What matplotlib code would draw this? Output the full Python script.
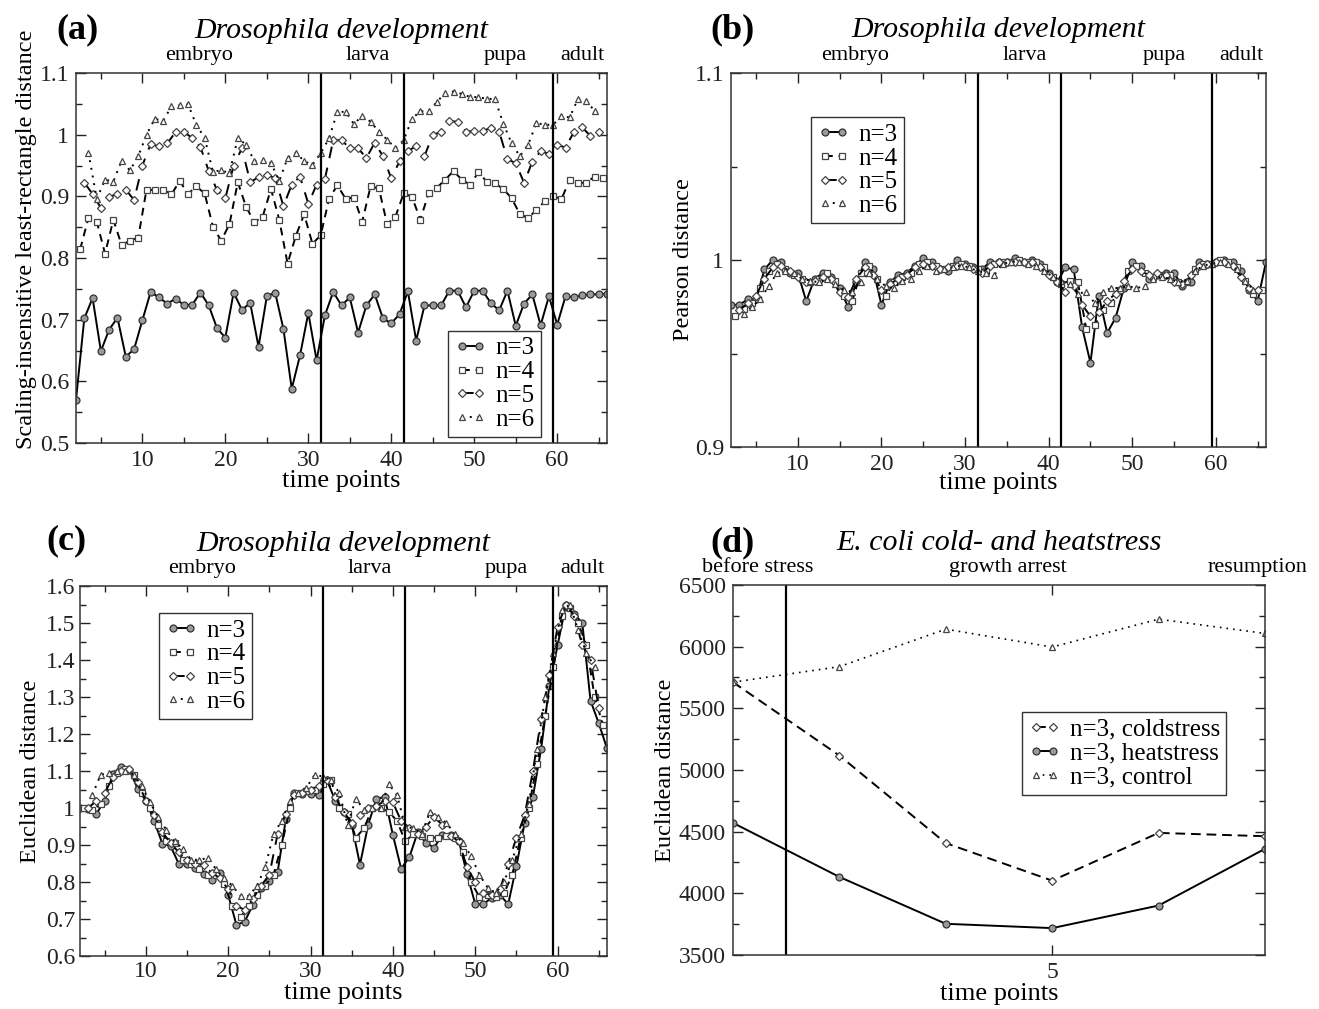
import numpy as np
import matplotlib
matplotlib.use("Agg")
import matplotlib.pyplot as plt
from matplotlib.ticker import MultipleLocator, FuncFormatter, FixedLocator
import matplotlib.transforms as mtransforms

plt.rcParams['font.family'] = ['Liberation Serif', 'DejaVu Serif']

# ---------------- data ----------------
# Panel (a): scaling-insensitive least-rectangle distance
a_n3 = [0.570, 0.702, 0.735, 0.649, 0.684, 0.703, 0.640, 0.652, 0.699, 0.745,
        0.736, 0.726, 0.734, 0.724, 0.724, 0.744, 0.723, 0.686, 0.671, 0.744,
        0.716, 0.727, 0.656, 0.738, 0.744, 0.685, 0.588, 0.642, 0.711, 0.634,
        0.707, 0.745, 0.723, 0.736, 0.679, 0.723, 0.741, 0.702, 0.694, 0.709,
        0.746, 0.666, 0.723, 0.723, 0.723, 0.747, 0.747, 0.720, 0.747, 0.747,
        0.727, 0.715, 0.747, 0.690, 0.726, 0.741, 0.691, 0.738, 0.692, 0.738,
        0.736, 0.740, 0.741, 0.741, 0.742]
a_n4 = [0.814, 0.865, 0.859, 0.807, 0.862, 0.821, 0.828, 0.833, 0.911, 0.910,
        0.911, 0.903, 0.925, 0.904, 0.916, 0.905, 0.851, 0.828, 0.855, 0.923,
        0.883, 0.858, 0.867, 0.912, 0.862, 0.791, 0.836, 0.871, 0.823, 0.837,
        0.896, 0.918, 0.896, 0.898, 0.859, 0.916, 0.913, 0.855, 0.867, 0.905,
        0.899, 0.862, 0.905, 0.914, 0.927, 0.941, 0.927, 0.919, 0.939, 0.924,
        0.921, 0.912, 0.897, 0.871, 0.865, 0.878, 0.892, 0.901, 0.895, 0.927,
        0.922, 0.922, 0.932, 0.930]
a_n5 = [0.922, 0.904, 0.881, 0.899, 0.904, 0.911, 0.894, 0.950, 0.985, 0.982,
        0.986, 1.004, 1.004, 0.995, 0.980, 0.941, 0.910, 0.897, 0.950, 0.978,
        0.923, 0.931, 0.934, 0.930, 0.884, 0.919, 0.932, 0.888, 0.919, 0.928,
        0.991, 0.991, 0.978, 0.978, 0.962, 0.987, 0.965, 0.929, 0.957, 0.974,
        0.981, 0.965, 1.000, 1.004, 1.022, 1.021, 1.005, 1.006, 1.006, 1.011,
        1.005, 0.960, 0.954, 0.922, 0.956, 0.973, 0.969, 0.984, 0.979, 1.004,
        1.012, 0.998, 1.005]
a_n6 = [0.971, 0.896, 0.927, 0.924, 0.958, 0.942, 0.965, 1.000, 1.026, 1.022,
        1.046, 1.048, 1.049, 1.016, 0.995, 0.940, 0.942, 0.938, 0.994, 0.984,
        0.957, 0.959, 0.954, 0.925, 0.962, 0.971, 0.957, 0.951, 0.970, 0.994,
        1.037, 1.037, 1.017, 1.031, 1.021, 1.005, 0.992, 0.978, 0.991, 1.026,
        1.038, 1.038, 1.053, 1.068, 1.070, 1.066, 1.061, 1.061, 1.058, 1.058,
        1.018, 0.986, 0.965, 0.984, 1.019, 1.016, 1.016, 1.030, 1.028, 1.058,
        1.054, 1.039]

# Panel (b): Pearson distance
b_n3 = [0.976, 0.976, 0.979, 0.979, 0.995, 1.000, 0.999, 0.993, 0.993, 0.978,
        0.990, 0.993, 0.991, 0.985, 0.975, 0.988, 0.999, 0.995, 0.976, 0.988,
        0.992, 0.993, 0.997, 1.001, 0.999, 0.995, 0.994, 1.000, 0.998, 0.996,
        0.995, 0.999, 0.999, 0.999, 1.001, 0.999, 1.000, 0.998, 0.993, 0.988,
        0.996, 0.995, 0.964, 0.945, 0.981, 0.961, 0.969, 0.985, 0.999, 0.997,
        0.990, 0.992, 0.993, 0.993, 0.986, 0.988, 0.999, 0.998, 0.999, 1.000,
        0.999, 0.994, 0.984, 0.978, 0.999]
b_n4 = [0.970, 0.974, 0.977, 0.985, 0.994, 0.998, 0.995, 0.992, 0.990, 0.988,
        0.990, 0.993, 0.989, 0.981, 0.978, 0.993, 0.997, 0.990, 0.981, 0.988,
        0.991, 0.993, 0.998, 0.999, 0.997, 0.995, 0.997, 0.998, 0.997, 0.995,
        0.994, 0.998, 0.999, 0.999, 1.000, 0.999, 0.999, 0.996, 0.991, 0.987,
        0.989, 0.988, 0.963, 0.965, 0.973, 0.977, 0.984, 0.994, 0.997, 0.993,
        0.991, 0.992, 0.992, 0.988, 0.988, 0.995, 0.998, 0.998, 1.000, 0.999,
        0.996, 0.989, 0.982, 0.984]
b_n5 = [0.973, 0.977, 0.981, 0.990, 0.996, 0.997, 0.994, 0.991, 0.988, 0.989,
        0.991, 0.990, 0.983, 0.980, 0.990, 0.996, 0.992, 0.984, 0.987, 0.990,
        0.992, 0.996, 0.998, 0.997, 0.995, 0.996, 0.997, 0.997, 0.995, 0.993,
        0.997, 0.999, 0.999, 0.999, 0.999, 0.999, 0.996, 0.992, 0.988, 0.983,
        0.986, 0.976, 0.970, 0.972, 0.978, 0.982, 0.989, 0.995, 0.994, 0.992,
        0.993, 0.992, 0.988, 0.987, 0.992, 0.997, 0.998, 0.999, 0.999, 0.997,
        0.991, 0.985, 0.984]
b_n6 = [0.971, 0.975, 0.979, 0.986, 0.993, 0.994, 0.993, 0.990, 0.989, 0.988,
        0.990, 0.987, 0.984, 0.983, 0.988, 0.993, 0.990, 0.986, 0.985, 0.989,
        0.990, 0.994, 0.997, 0.994, 0.995, 0.996, 0.997, 0.996, 0.994, 0.993,
        0.992, 0.998, 0.999, 0.999, 0.998, 0.997, 0.994, 0.991, 0.989, 0.987,
        0.982, 0.983, 0.977, 0.983, 0.985, 0.985, 0.986, 0.985, 0.986, 0.990,
        0.991, 0.990, 0.988, 0.989, 0.994, 0.997, 0.998, 0.999, 0.998, 0.995,
        0.989, 0.984]

# Panel (c): Euclidean distance
c_n3 = [1.000, 0.997, 0.985, 1.020, 1.093, 1.111, 1.104, 1.052, 1.020, 0.965,
        0.904, 0.897, 0.849, 0.849, 0.838, 0.822, 0.806, 0.825, 0.765, 0.684,
        0.693, 0.738, 0.784, 0.802, 0.827, 0.970, 1.040, 1.038, 1.038, 1.034,
        1.075, 1.020, 0.990, 0.955, 0.847, 0.955, 1.025, 1.030, 0.927, 0.836,
        0.867, 0.934, 0.906, 0.893, 0.927, 0.927, 0.911, 0.822, 0.740, 0.740,
        0.758, 0.765, 0.740, 0.843, 0.960, 1.030, 1.160, 1.330, 1.440, 1.548,
        1.525, 1.500, 1.290, 1.229, 1.161]
c_n4 = [1.000, 0.995, 1.010, 1.060, 1.095, 1.105, 1.090, 1.040, 1.000, 0.955,
        0.910, 0.905, 0.860, 0.850, 0.835, 0.820, 0.820, 0.795, 0.735, 0.705,
        0.735, 0.765, 0.790, 0.820, 0.900, 1.000, 1.040, 1.045, 1.050, 1.065,
        1.075, 1.000, 0.985, 0.920, 0.945, 1.000, 1.000, 0.990, 0.965, 0.910,
        0.930, 0.925, 0.920, 0.920, 0.925, 0.920, 0.880, 0.800, 0.760, 0.765,
        0.760, 0.770, 0.820, 0.920, 1.000, 1.120, 1.250, 1.380, 1.520, 1.540,
        1.500, 1.440, 1.300, 1.225]
c_n5 = [1.000, 1.020, 1.040, 1.085, 1.100, 1.105, 1.070, 1.020, 0.980, 0.935,
        0.905, 0.880, 0.860, 0.850, 0.845, 0.825, 0.810, 0.780, 0.735, 0.725,
        0.755, 0.790, 0.820, 0.930, 0.985, 1.035, 1.040, 1.050, 1.060, 1.075,
        1.030, 0.990, 0.960, 0.980, 1.000, 1.005, 1.020, 1.015, 0.965, 0.947,
        0.930, 0.950, 0.975, 0.955, 0.925, 0.910, 0.840, 0.800, 0.770, 0.765,
        0.780, 0.850, 0.920, 0.980, 1.100, 1.240, 1.360, 1.490, 1.550, 1.520,
        1.440, 1.400, 1.270]
c_n6 = [1.035, 1.090, 1.095, 1.100, 1.100, 1.090, 1.060, 1.015, 0.975, 0.940,
        0.910, 0.890, 0.860, 0.860, 0.865, 0.835, 0.810, 0.790, 0.762, 0.762,
        0.790, 0.840, 0.930, 0.965, 1.020, 1.040, 1.055, 1.090, 1.085, 1.075,
        1.040, 0.955, 1.025, 0.995, 1.000, 1.000, 1.065, 1.035, 0.950, 0.945,
        0.930, 0.990, 0.975, 0.960, 0.930, 0.905, 0.870, 0.820, 0.785, 0.770,
        0.800, 0.860, 0.930, 1.010, 1.160, 1.300, 1.420, 1.535, 1.550, 1.480,
        1.420, 1.380]

# Panel (d): E. coli
d_time = [2, 3, 4, 5, 6, 7]
d_cold = [5712, 5117, 4407, 4103, 4490, 4463]
d_heat = [4571, 4133, 3753, 3718, 3901, 4361]
d_ctrl = [5712, 5838, 6142, 5997, 6223, 6107]

stage_names = ['embryo', 'larva', 'pupa', 'adult']
stage_pos = [16.8, 37.2, 53.8, 63.0]
stage_bounds = [31.5, 41.5, 59.5]
ecoli_stages = ['before stress', 'growth arrest', 'resumption']
ecoli_pos = [2.23, 4.58, 6.93]
ecoli_bound = 2.5

# ---------------- styling ----------------
W, H = 1319, 1009
fig = plt.figure(figsize=(W / 100, H / 100), dpi=100)

def rect(l, t, r, b):
    return [l / W, 1 - b / H, (r - l) / W, (b - t) / H]

FS_TICK = 17
FS_XLAB = 19
FS_YLAB = 17.5
FS_STAGE = 16
FS_TITLE = 21.5
FS_LEG = 18
FS_LETTER = 26

styles = {
    3: dict(ls='-', marker='o', mfc='#9a9a9a', mec='#333333'),
    4: dict(ls=(0, (4, 3)), marker='s', mfc='white', mec='#444444'),
    5: dict(ls=(0, (6, 5)), marker='D', mfc='white', mec='#444444'),
    6: dict(ls=(0, (1, 3)), marker='^', mfc='white', mec='#444444'),
}
msizes = {3: 5, 4: 5, 5: 4, 6: 5}

fmt = FuncFormatter(lambda v, p: '%g' % round(v, 4))

def style_axes(ax, pad=5):
    for s in ax.spines.values():
        s.set_linewidth(1.1)
        s.set_color('#333333')
    ax.tick_params(which='both', direction='in', top=True, right=True,
                   labelsize=FS_TICK, colors='#222222', pad=pad)
    ax.tick_params(which='major', length=7, width=1.0)
    ax.tick_params(which='minor', length=4.5, width=1.0)
    ax.yaxis.set_major_formatter(fmt)

def plot_series(ax, start, vals, n, label):
    x = start + np.arange(len(vals))
    st = styles[n]
    ax.plot(x, vals, color='black', lw=1.4, ls=st['ls'], marker=st['marker'],
            ms=msizes[n], mfc=st['mfc'], mec=st['mec'], mew=0.9, label=label)

def make_legend(ax, loc, anchor):
    leg = ax.legend(loc=loc, bbox_to_anchor=anchor, numpoints=2,
                    fontsize=FS_LEG, frameon=True, fancybox=False,
                    handlelength=1.3, handletextpad=0.35, borderpad=0.25,
                    labelspacing=0.05, borderaxespad=0, framealpha=1)
    leg.get_frame().set_edgecolor('#333333')
    leg.get_frame().set_linewidth(1.0)

def drosophila(ax, series, ylim, ymaj, ylabel, ylab_xy, xlab_y, legend_loc,
               legend_anchor, pad=5):
    starts = {3: 2.0, 4: 2.5, 5: 3.0, 6: 3.5}
    for n, vals in series:
        plot_series(ax, starts[n], vals, n, 'n=%d' % n)
    for b in stage_bounds:
        ax.axvline(b, color='black', lw=1.6)
    ax.set_xlim(2, 66)
    ax.set_ylim(*ylim)
    ax.xaxis.set_major_locator(MultipleLocator(10))
    ax.xaxis.set_minor_locator(MultipleLocator(5))
    ax.yaxis.set_major_locator(MultipleLocator(ymaj))
    ax.yaxis.set_minor_locator(MultipleLocator(ymaj / 2))
    style_axes(ax, pad)
    trans = mtransforms.blended_transform_factory(ax.transData, ax.transAxes)
    for name, pos in zip(stage_names, stage_pos):
        ax.text(pos, 1.035, name, transform=trans, ha='center', va='baseline',
                fontsize=FS_STAGE)
    ax.text(0.5, 1.095, 'Drosophila development', transform=ax.transAxes,
            ha='center', va='baseline', fontsize=FS_TITLE, style='italic')
    ax.set_xlabel('time points', fontsize=FS_XLAB)
    ax.set_ylabel(ylabel, fontsize=FS_YLAB)
    ax.xaxis.set_label_coords(0.5, xlab_y)
    ax.yaxis.set_label_coords(*ylab_xy)
    make_legend(ax, legend_loc, legend_anchor)

# (a)
axa = fig.add_axes(rect(76, 73, 607, 443))
drosophila(axa, [(3, a_n3), (4, a_n4), (5, a_n5), (6, a_n6)], (0.5, 1.1), 0.1,
           'Scaling-insensitive least-rectangle distance', (-0.073, 0.55), -0.072,
           'lower left', ((448 - 76) / 531, (443 - 437) / 370))

# (b)
axb = fig.add_axes(rect(731, 73, 1266, 447))
drosophila(axb, [(3, b_n3), (4, b_n4), (5, b_n5), (6, b_n6)], (0.9, 1.1), 0.1,
           'Pearson distance', (-0.07, 0.5), -0.068,
           'upper left', ((811 - 731) / 535, (447 - 117) / 374))

# (c)
axc = fig.add_axes(rect(80, 586, 607, 956))
drosophila(axc, [(3, c_n3), (4, c_n4), (5, c_n5), (6, c_n6)], (0.6, 1.6), 0.1,
           'Euclidean distance', (-0.074, 0.5), -0.069,
           'upper left', ((159 - 80) / 527, (956 - 613) / 370), pad=3.5)

# (d)
axd = fig.add_axes(rect(733, 585, 1265, 955))
axd.plot(d_time, d_cold, color='black', lw=1.4, ls=(0, (5, 3)), marker='D', ms=4,
         mfc='white', mec='#444444', mew=0.9, label='n=3, coldstress')
axd.plot(d_time, d_heat, color='black', lw=1.4, ls='-', marker='o', ms=5,
         mfc='#9a9a9a', mec='#333333', mew=0.9, label='n=3, heatstress')
axd.plot(d_time, d_ctrl, color='black', lw=1.2, ls=(0, (1, 3)), marker='^', ms=5,
         mfc='white', mec='#444444', mew=0.9, label='n=3, control')
axd.axvline(ecoli_bound, color='black', lw=1.6)
axd.set_xlim(2, 7)
axd.set_ylim(3500, 6500)
axd.xaxis.set_major_locator(FixedLocator([5]))
axd.yaxis.set_major_locator(MultipleLocator(500))
axd.yaxis.set_minor_locator(MultipleLocator(250))
style_axes(axd)
transd = mtransforms.blended_transform_factory(axd.transData, axd.transAxes)
for name, pos in zip(ecoli_stages, ecoli_pos):
    axd.text(pos, 1.035, name, transform=transd, ha='center', va='baseline',
             fontsize=FS_STAGE)
axd.text(0.5, 1.095, 'E. coli cold- and heatstress', transform=axd.transAxes,
         ha='center', va='baseline', fontsize=FS_TITLE, style='italic')
axd.set_xlabel('time points', fontsize=FS_XLAB)
axd.set_ylabel('Euclidean distance', fontsize=FS_YLAB)
axd.xaxis.set_label_coords(0.5, -0.075)
axd.yaxis.set_label_coords(-0.108, 0.5)
make_legend(axd, 'upper left', ((1022 - 733) / 532, (955 - 712) / 370))

# panel letters
for lab, x, y in [('(a)', 56, 38), ('(b)', 710, 38), ('(c)', 46, 549), ('(d)', 710, 551)]:
    fig.text(x / W, 1 - y / H, lab, fontsize=FS_LETTER, fontweight='bold',
             ha='left', va='baseline')

fig.savefig('out.png', dpi=100, facecolor='white')
